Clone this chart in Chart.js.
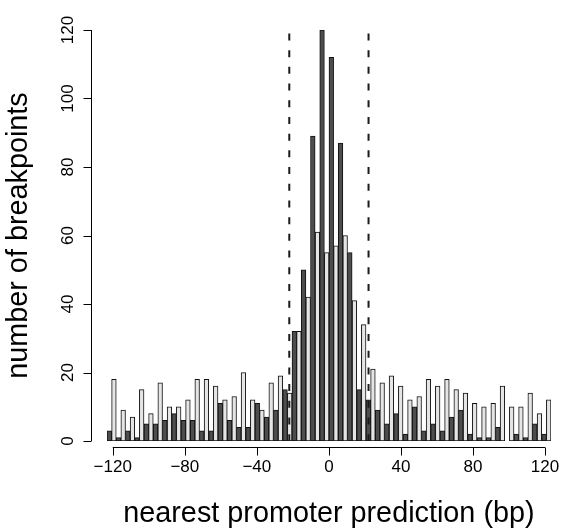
<!DOCTYPE html>
<html>
<head>
<meta charset="utf-8">
<script src="https://cdn.jsdelivr.net/npm/chart.js@4"></script>
<style>
  html, body { margin: 0; padding: 0; background: #fff; }
  #wrap { width: 566px; height: 528px; }
</style>
</head>
<body>
<div id="wrap"><canvas id="chart" width="566" height="528"></canvas></div>
<script>
// bin centres (bp), 5 bp bins
const binCentres = [
  -117.5, -112.5, -107.5, -102.5, -97.5, -92.5, -87.5, -82.5, -77.5, -72.5, -67.5, -62.5,
  -57.5, -52.5, -47.5, -42.5, -37.5, -32.5, -27.5, -22.5, -17.5, -12.5, -7.5, -2.5,
  2.5, 7.5, 12.5, 17.5, 22.5, 27.5, 32.5, 37.5, 42.5, 47.5, 52.5, 57.5,
  62.5, 67.5, 72.5, 77.5, 82.5, 87.5, 92.5, 97.5, 102.5, 107.5, 112.5, 117.5
];

// dark bars
const darkCounts = [
  3, 1, 3, 1, 5, 5, 6, 8, 6, 6, 3, 3,
  11, 6, 4, 4, 11, 7, 9, 15, 32, 50, 89, 120,
  112, 87, 55, 15, 12, 9, 5, 8, 2, 10, 3, 5,
  3, 7, 9, 2, 1, 1, 4, 0, 2, 1, 5, 2
];

// light bars
const lightCounts = [
  18, 9, 7, 15, 8, 17, 10, 10, 12, 18, 18, 16,
  12, 13, 20, 12, 9, 17, 19, 14, 32, 42, 61, 55,
  57, 60, 41, 34, 21, 17, 19, 16, 12, 13, 18, 16,
  18, 15, 14, 11, 10, 11, 16, 10, 10, 14, 8, 12
];

const xTickValues = [-120, -80, -40, 0, 40, 80, 120];
const yTickValues = [0, 20, 40, 60, 80, 100, 120];
const cutoffLines = [-22, 22];

const FAMILY = '"Liberation Sans", Arial, sans-serif';
const TICK_FONT = '17px ' + FAMILY;
const TITLE_FONT = '28.8px ' + FAMILY;
const fmt = v => (v < 0 ? '\u2212' + Math.abs(v) : String(v));

// R-style detached axes, drawn from the chart's scales
const rAxes = {
  id: 'rAxes',
  afterDatasetsDraw(chart) {
    const ctx = chart.ctx;
    const xs = chart.scales.xb;
    const ys = chart.scales.y;
    const base = ys.getPixelForValue(0);

    ctx.save();
    // dashed cutoffs
    ctx.strokeStyle = '#1a1a1a';
    ctx.lineWidth = 2;
    ctx.setLineDash([7, 9.7]);
    cutoffLines.forEach(v => {
      const px = xs.getPixelForValue(v);
      ctx.beginPath();
      ctx.moveTo(px, ys.getPixelForValue(119));
      ctx.lineTo(px, base);
      ctx.stroke();
    });
    ctx.setLineDash([]);

    ctx.strokeStyle = '#000';
    ctx.lineWidth = 1;
    ctx.fillStyle = '#000';
    ctx.font = TICK_FONT;

    // x axis
    const ax = Math.round(base + 6) + 0.5;
    ctx.beginPath();
    ctx.moveTo(xs.getPixelForValue(xTickValues[0]), ax);
    ctx.lineTo(xs.getPixelForValue(xTickValues[xTickValues.length - 1]), ax);
    xTickValues.forEach(v => {
      const px = Math.round(xs.getPixelForValue(v)) + 0.5;
      ctx.moveTo(px, ax);
      ctx.lineTo(px, ax + 8);
    });
    ctx.stroke();
    ctx.textAlign = 'center';
    ctx.textBaseline = 'middle';
    xTickValues.forEach(v => {
      ctx.fillText(fmt(v), xs.getPixelForValue(v), ax + 20);
    });

    // y axis
    const ay = 91.5;
    ctx.beginPath();
    ctx.moveTo(ay, ys.getPixelForValue(yTickValues[0]));
    ctx.lineTo(ay, ys.getPixelForValue(yTickValues[yTickValues.length - 1]));
    yTickValues.forEach(v => {
      const py = Math.round(ys.getPixelForValue(v)) + 0.5;
      ctx.moveTo(ay, py);
      ctx.lineTo(ay - 8, py);
    });
    ctx.stroke();
    yTickValues.forEach(v => {
      ctx.save();
      ctx.translate(68, ys.getPixelForValue(v));
      ctx.rotate(-Math.PI / 2);
      ctx.fillText(fmt(v), 0, 0);
      ctx.restore();
    });

    // axis titles
    ctx.font = TITLE_FONT;
    ctx.fillText('nearest promoter prediction (bp)', xs.getPixelForValue(0), 514);
    ctx.save();
    ctx.translate(19, ys.getPixelForValue(60));
    ctx.rotate(-Math.PI / 2);
    ctx.fillText('number of breakpoints', 0, 0);
    ctx.restore();

    ctx.restore();
  }
};

new Chart(document.getElementById('chart'), {
  type: 'bar',
  data: {
    labels: binCentres,
    datasets: [
      {
        data: darkCounts,
        backgroundColor: '#4d4d4d',
        borderColor: '#111',
        borderWidth: 1,
        borderSkipped: false,
        categoryPercentage: 1,
        barPercentage: 1
      },
      {
        data: lightCounts,
        backgroundColor: '#e5e5e5',
        borderColor: '#111',
        borderWidth: 1,
        borderSkipped: false,
        categoryPercentage: 1,
        barPercentage: 1
      }
    ]
  },
  options: {
    responsive: false,
    animation: false,
    devicePixelRatio: 1,
    layout: { padding: { left: 107, right: 15, top: 30, bottom: 87 } },
    plugins: { legend: { display: false }, tooltip: { enabled: false } },
    scales: {
      x: { type: 'category', display: false, offset: true },
      xb: { type: 'linear', display: false, offset: false, grid: { offset: false }, min: -123.2, max: 123.3 },
      y: { type: 'linear', display: false, min: 0, max: 120 }
    }
  },
  plugins: [rAxes]
});
</script>
</body>
</html>
